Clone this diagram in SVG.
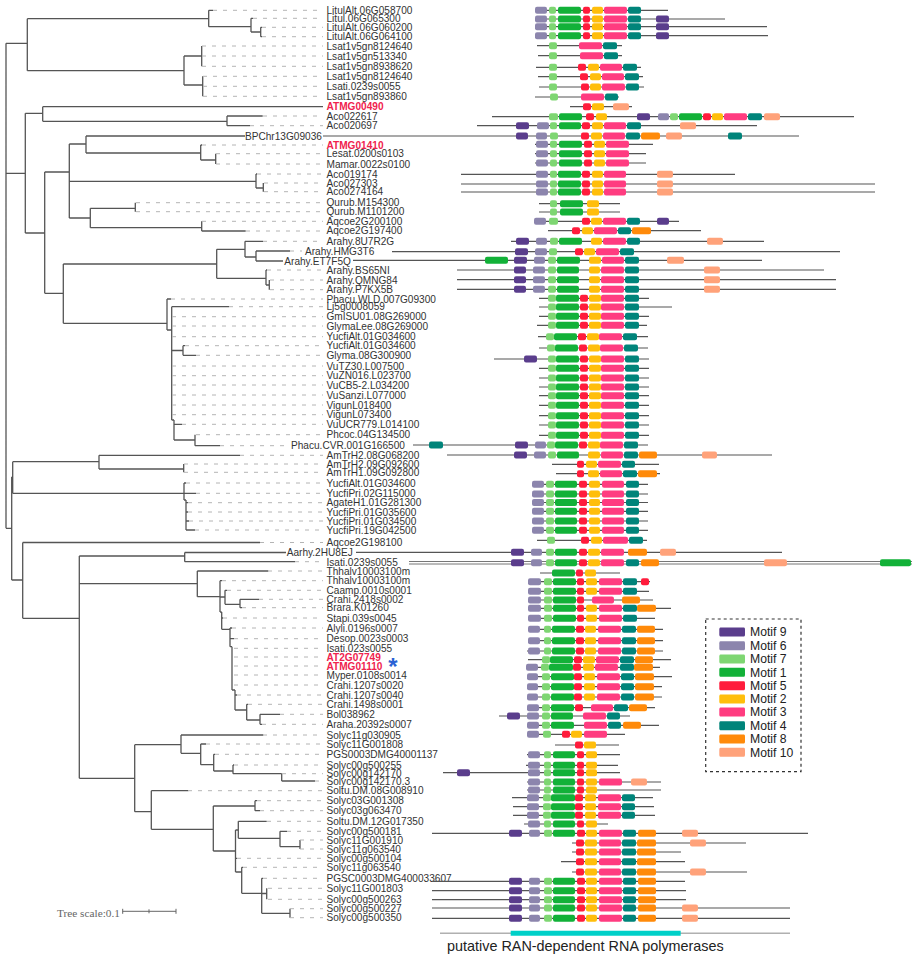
<svg xmlns="http://www.w3.org/2000/svg" xmlns:xlink="http://www.w3.org/1999/xlink" width="918" height="960" viewBox="0 0 918 960">
<style>
.t{stroke:#555;stroke-width:1.3;fill:none}
.d{stroke:#b4b4b4;stroke-width:1;stroke-dasharray:4 6;fill:none}
.l{font-family:"Liberation Sans",Arial,sans-serif;font-size:10.1px;fill:#333}
.r{fill:#f0224e;font-weight:bold}
.ln{stroke:#555;stroke-width:1.2}
rect{rx:2px;ry:2px}
.m9{fill:#5a3d8c}.m6{fill:#8c85ad}.m7{fill:#7ed672}.m1{fill:#12b138}.m5{fill:#ff1c3c}
.m2{fill:#ffbe0b}.m3{fill:#ff3c80}.m4{fill:#00847a}.m8{fill:#ff8a0a}.m10{fill:#ffa27a}
.lg{font-family:"Liberation Sans",Arial,sans-serif;font-size:12.2px;fill:#222}
</style>
<defs>
<g id="S1"><rect class="m6" x="535" y="-3.5" width="12" height="7"/><rect class="m7" x="549" y="-3.5" width="7" height="7"/><rect class="m1" x="558" y="-3.5" width="23" height="7"/><rect class="m5" x="583" y="-3.5" width="7" height="7"/><rect class="m2" x="592" y="-3.5" width="11" height="7"/><rect class="m3" x="604" y="-3.5" width="23" height="7"/><rect class="m4" x="628" y="-3.5" width="13" height="7"/></g>
<g id="S2"><rect class="m7" x="548" y="-3.5" width="8" height="7"/><rect class="m1" x="556" y="-3.5" width="23" height="7"/><rect class="m5" x="580" y="-3.5" width="8" height="7"/><rect class="m2" x="589" y="-3.5" width="12" height="7"/><rect class="m3" x="601" y="-3.5" width="23" height="7"/><rect class="m4" x="625" y="-3.5" width="14" height="7"/></g>
<g id="S3"><rect class="m6" x="532" y="-3.5" width="12" height="7"/><rect class="m7" x="546" y="-3.5" width="8" height="7"/><rect class="m1" x="555" y="-3.5" width="22" height="7"/><rect class="m5" x="579" y="-3.5" width="8" height="7"/><rect class="m2" x="589" y="-3.5" width="11" height="7"/><rect class="m3" x="602" y="-3.5" width="22" height="7"/><rect class="m4" x="626" y="-3.5" width="13" height="7"/></g>
<g id="S4"><rect class="m6" x="528" y="-3.5" width="13" height="7"/><rect class="m7" x="544" y="-3.5" width="8" height="7"/><rect class="m1" x="553" y="-3.5" width="23" height="7"/><rect class="m5" x="577" y="-3.5" width="7" height="7"/><rect class="m2" x="586" y="-3.5" width="11" height="7"/><rect class="m3" x="599" y="-3.5" width="23" height="7"/><rect class="m4" x="623" y="-3.5" width="14" height="7"/></g>
<g id="S5"><rect class="m6" x="528" y="-3.5" width="12" height="7"/><rect class="m7" x="544" y="-3.5" width="7" height="7"/><rect class="m1" x="552" y="-3.5" width="23" height="7"/><rect class="m5" x="576" y="-3.5" width="8" height="7"/><rect class="m2" x="585" y="-3.5" width="11" height="7"/><rect class="m3" x="598" y="-3.5" width="23" height="7"/><rect class="m4" x="622" y="-3.5" width="14" height="7"/><rect class="m8" x="637" y="-3.5" width="18" height="7"/></g>
<g id="S6"><rect class="m6" x="527" y="-3.5" width="11" height="7"/><rect class="m7" x="542" y="-3.5" width="8" height="7"/><rect class="m1" x="551" y="-3.5" width="23" height="7"/><rect class="m5" x="574" y="-3.5" width="8" height="7"/><rect class="m2" x="584" y="-3.5" width="11" height="7"/><rect class="m3" x="597" y="-3.5" width="23" height="7"/><rect class="m4" x="621" y="-3.5" width="13" height="7"/><rect class="m8" x="635" y="-3.5" width="19" height="7"/></g>
<g id="S7"><rect class="m6" x="528" y="-3.5" width="12" height="7"/><rect class="m7" x="544" y="-3.5" width="7" height="7"/><rect class="m1" x="553" y="-3.5" width="22" height="7"/><rect class="m5" x="577" y="-3.5" width="7" height="7"/><rect class="m2" x="586" y="-3.5" width="11" height="7"/></g>
<g id="S8"><rect class="m6" x="527" y="-3.5" width="12" height="7"/><rect class="m7" x="543" y="-3.5" width="8" height="7"/><rect class="m1" x="551" y="-3.5" width="24" height="7"/><rect class="m5" x="575" y="-3.5" width="8" height="7"/><rect class="m2" x="585" y="-3.5" width="11" height="7"/><rect class="m3" x="598" y="-3.5" width="23" height="7"/><rect class="m4" x="622" y="-3.5" width="13" height="7"/></g>
<g id="S9"><rect class="m9" x="509" y="-3.5" width="13" height="7"/><rect class="m6" x="529" y="-3.5" width="11" height="7"/><rect class="m7" x="544" y="-3.5" width="8" height="7"/><rect class="m1" x="553" y="-3.5" width="22" height="7"/><rect class="m5" x="577" y="-3.5" width="8" height="7"/><rect class="m2" x="586" y="-3.5" width="11" height="7"/><rect class="m3" x="599" y="-3.5" width="23" height="7"/><rect class="m4" x="623" y="-3.5" width="13" height="7"/><rect class="m8" x="638" y="-3.5" width="18" height="7"/></g>
<g id="SA"><rect class="m6" x="536" y="-3.5" width="12" height="7"/><rect class="m7" x="550" y="-3.5" width="7" height="7"/><rect class="m1" x="559" y="-3.5" width="23" height="7"/><rect class="m5" x="584" y="-3.5" width="8" height="7"/><rect class="m2" x="594" y="-3.5" width="11" height="7"/><rect class="m3" x="606" y="-3.5" width="23" height="7"/></g>
<g id="SB"><rect class="m6" x="536" y="-3.5" width="12" height="7"/><rect class="m7" x="550" y="-3.5" width="7" height="7"/><rect class="m1" x="558" y="-3.5" width="23" height="7"/><rect class="m5" x="582" y="-3.5" width="8" height="7"/><rect class="m2" x="592" y="-3.5" width="11" height="7"/><rect class="m3" x="604" y="-3.5" width="22" height="7"/><rect class="m10" x="657" y="-3.5" width="16" height="7"/></g>
<g id="SC"><rect class="m9" x="514" y="-3.5" width="12" height="7"/><rect class="m6" x="533" y="-3.5" width="12" height="7"/><rect class="m7" x="548" y="-3.5" width="8" height="7"/><rect class="m1" x="557" y="-3.5" width="22" height="7"/><rect class="m2" x="589" y="-3.5" width="11" height="7"/><rect class="m3" x="601" y="-3.5" width="23" height="7"/><rect class="m4" x="625" y="-3.5" width="14" height="7"/><rect class="m10" x="704" y="-3.5" width="16" height="7"/></g>
<g id="SD"><rect class="m5" x="576" y="-3.5" width="8" height="7"/><rect class="m2" x="585" y="-3.5" width="12" height="7"/><rect class="m3" x="599" y="-3.5" width="22" height="7"/><rect class="m4" x="622" y="-3.5" width="14" height="7"/><rect class="m8" x="637" y="-3.5" width="19" height="7"/></g>
</defs>
<rect width="918" height="960" fill="#fff" style="rx:0"/>

<g id="connectors">
<path class="t" d="M6 43.3V528.3M6 43.3H27.3M27.3 18.7V70.7M27.3 18.7H208.7M208.7 10.3V26.7M208.7 10.3H213M208.7 26.7H251M251 18.3V32M251 18.3H253M251 32H260.7M260.7 27.3V36.7M260.7 27.3H262M260.7 36.7H262M27.3 70.7H184M184 56V85M184 56H201.7M201.7 46V66.3M184 85H202.7M202.7 76.3V96.3
M6 173.3H25.3M25.3 113.3V233M25.3 113.3H42.7M42.7 106.7V121.3M42.7 106.7H323M42.7 121.3H227M227 116V125.7M227 116H262.7M227 125.7H250M25.3 233H44.7M44.7 172V293.3M44.7 172H69.3M69.3 144V218M69.3 144H86M86 136V153M86 136H245M86 153H200.7M200.7 145V160M200.7 145H202M200.7 160H215.7M215.7 153.7V164M69.3 181.3H256M256 174V188M256 174H257M256 188H263.3M263.3 183V191.7M69.3 218H90.3M90.3 208.3V227.7M90.3 208.3H135.3M135.3 202.7V211.7M90.3 227.7H201.7M201.7 221.3V231M201.7 231H245.7
M44.7 293.3H63.3M63.3 264V323.3M63.3 264H216.7M216.7 249.3V278.3M216.7 249.3H245M245 241.3V257M245 241.3H263M245 257H256M256 251V261M256 251H290M256 261H283M216.7 278.3H266M266 270V285M266 270H267M266 285H269.3M269.3 280V289.7
M63.3 323.3H167M167 299V330M167 299H171M167 330H171.7M171.7 306.7V420M171.7 306.7H229M171.7 350.5H183M183 345.7V355.3M183 345.7H185M183 355.3H196M171.7 420H174M174 420V440M174 424.3H182M174 440H195M195 434.7V445.7M195 445.7H220
M6 528.3H11.7M11.7 477V580M11.7 477H12.7M12.7 461.7V493.3M12.7 461.7H99M99 455.3V469M99 455.3H240M99 469H183.7M183.7 464V472.3M12.7 493.3H196M184 483V500M184 483H186M184 500H186M186 500V530M186 502.7H188M186 512H188M186 521H189M186 530H195
M11.7 580H22.7M22.7 542.5V618.3M22.7 542.5H260M22.7 618.3H79.3M79.3 556V778.3M79.3 556H184.7M184.7 552.5V561.7M184.7 552.5H286M184.7 561.7H295M79.3 583.7H197.3M197.3 571V596.7M197.3 571H268.3M197.3 596.7H220M220 580.7V612M220 580.7H222M220 597H225M225 590.3V604.3M225 590.3H227M225 604.3H240M240 599.3V607.7M240 599.3H259M240 607.7H242M220 612H221.7M221.7 612V629.3M221.7 618H223M221.7 629.3H230M230 628V646.7M230 628H232M230 638.7H234M230 646.7H232M232 646.7V690M232 690H235M235 690V710M235 695H237M235 710H246.7M246.7 704.3V720M246.7 704.3H248M246.7 720H260M260 714.3V724.3M260 714.3H280M260 724.3H262
M79.3 778.3H134.7M134.7 744.7V811.7M134.7 744.7H181M181 735V753.3M181 735H263.3M181 753.3H200.7M200.7 744V764.7M200.7 744H206M200.7 764.7H213.7M213.7 754.3V771M213.7 754.3H215M213.7 771H233M233 765V773.7M233 765H234M233 773.7H281.7M281.7 773.7V781M281.7 781H315M134.7 811.7H151.3M151.3 790.7V829.3M151.3 790.7H188.3M151.3 829.3H213.3M213.3 806V851M213.3 806H255M255 800.7V810.7M255 800.7H257M255 810.7H260M213.3 851H235.5M235.5 830V872M235.5 830H238.3M238.3 821.3V838.3M238.3 821.3H266.7M238.3 838.3H280M280 831.3V846.7M280 831.3H287M280 846.7H300M300 840V849M235.5 858.3H237M235.5 872H241.7M241.7 867.3V893.3M241.7 867.3H243M241.7 893.3H261.7M261.7 878.3V913.3M261.7 878.3H263M261.7 893.5H266.7M266.7 888.3V899.3M261.7 913.3H290M290 908.7V917.7"/>
</g>

<g id="leaves">
<g id="n1"><path class="d" d="M213 10.3H323"/><text class="l" x="326.5" y="13.9">LitulAlt.06G058700</text></g>
<g id="n2"><path class="d" d="M253 18.3H323"/><text class="l" x="326.5" y="21.9">Litul.06G065300</text></g>
<g id="n3"><path class="d" d="M262 27.3H323"/><text class="l" x="326.5" y="30.9">LitulAlt.06G060200</text></g>
<g id="n4"><path class="d" d="M262 36.7H323"/><text class="l" x="326.5" y="40.3">LitulAlt.06G064100</text></g>
<g id="n5"><path class="d" d="M202 46H323"/><text class="l" x="326.5" y="49.6">Lsat1v5gn8124640</text></g>
<g id="n6"><path class="d" d="M202 56H323"/><text class="l" x="326.5" y="59.6">Lsat1v5gn513340</text></g>
<g id="n7"><path class="d" d="M202 66.3H323"/><text class="l" x="326.5" y="69.9">Lsat1v5gn8938620</text></g>
<g id="n8"><path class="d" d="M203 76.3H323"/><text class="l" x="326.5" y="79.9">Lsat1v5gn8124640</text></g>
<g id="n9"><path class="d" d="M203 86.3H323"/><text class="l" x="326.5" y="89.9">Lsati.0239s0055</text></g>
<g id="n10"><path class="d" d="M203 96.3H323"/><text class="l" x="326.5" y="99.9">Lsat1v5gn893860</text></g>
<g id="n11"><text class="l r" x="326.5" y="110.3">ATMG00490</text></g>
<g id="n12"><path class="d" d="M263 116H323"/><text class="l" x="326.5" y="119.6">Aco022617</text></g>
<g id="n13"><path class="d" d="M250 125.7H323"/><text class="l" x="326.5" y="129.3">Aco020697</text></g>
<g id="n14"><text class="l" x="245" y="139.6">BPChr13G09036</text></g>
<g id="n15"><path class="d" d="M202 145H323"/><text class="l r" x="326.5" y="148.6">ATMG01410</text></g>
<g id="n16"><path class="d" d="M216 153.7H323"/><text class="l" x="326.5" y="157.3">Lesat.0200s0103</text></g>
<g id="n17"><path class="d" d="M216 164H323"/><text class="l" x="326.5" y="167.6">Mamar.0022s0100</text></g>
<g id="n18"><path class="d" d="M257 174H323"/><text class="l" x="326.5" y="177.6">Aco019174</text></g>
<g id="n19"><path class="d" d="M264 183H323"/><text class="l" x="326.5" y="186.6">Aco027303</text></g>
<g id="n20"><path class="d" d="M264 191.7H323"/><text class="l" x="326.5" y="195.3">Aco0274164</text></g>
<g id="n21"><path class="d" d="M136 202.7H323"/><text class="l" x="326.5" y="206.3">Qurub.M154300</text></g>
<g id="n22"><path class="d" d="M136 211.7H323"/><text class="l" x="326.5" y="215.3">Qurub.M1101200</text></g>
<g id="n23"><path class="d" d="M202 221.3H323"/><text class="l" x="326.5" y="224.9">Aqcoe2G200100</text></g>
<g id="n24"><path class="d" d="M246 231H323"/><text class="l" x="326.5" y="234.2">Aqcoe2G197400</text></g>
<g id="n25"><path class="d" d="M263 241.3H323"/><text class="l" x="326.5" y="244.9">Arahy.8U7R2G</text></g>
<g id="n26"><path class="d" d="M290 251H302"/><text class="l" x="305" y="254.6">Arahy.HMG3T6</text></g>
<g id="n27"><text class="l" x="284.3" y="264.6">Arahy.ET7F5Q</text></g>
<g id="n28"><path class="d" d="M267 270H323"/><text class="l" x="326.5" y="273.6">Arahy.BS65NI</text></g>
<g id="n29"><path class="d" d="M270 280H323"/><text class="l" x="326.5" y="283.6">Arahy.QMNG84</text></g>
<g id="n30"><path class="d" d="M270 289.7H323"/><text class="l" x="326.5" y="293.3">Arahy.P7KX5B</text></g>
<g id="n31"><path class="d" d="M171 299H323"/><text class="l" x="326.5" y="302.6">Phacu.WLD.007G09300</text></g>
<g id="n32"><path class="d" d="M229 306.7H323"/><text class="l" x="326.5" y="310.3">Lj5g0008059</text></g>
<g id="n33"><path class="d" d="M172 316.7H323"/><text class="l" x="326.5" y="320.3">GmISU01.08G269000</text></g>
<g id="n34"><path class="d" d="M172 326H323"/><text class="l" x="326.5" y="329.6">GlymaLee.08G269000</text></g>
<g id="n35"><path class="d" d="M172 336.7H323"/><text class="l" x="326.5" y="340.3">YucfiAlt.01G034600</text></g>
<g id="n36"><path class="d" d="M185 345.7H323"/><text class="l" x="326.5" y="349.3">YucfiAlt.01G034600</text></g>
<g id="n37"><path class="d" d="M196 355.3H323"/><text class="l" x="326.5" y="358.9">Glyma.08G300900</text></g>
<g id="n38"><path class="d" d="M172 366H323"/><text class="l" x="326.5" y="369.6">VuTZ30.L007500</text></g>
<g id="n39"><path class="d" d="M172 375.7H323"/><text class="l" x="326.5" y="379.3">VuZN016.L023700</text></g>
<g id="n40"><path class="d" d="M172 385H323"/><text class="l" x="326.5" y="388.6">VuCB5-2.L034200</text></g>
<g id="n41"><path class="d" d="M172 395H323"/><text class="l" x="326.5" y="398.6">VuSanzi.L077000</text></g>
<g id="n42"><path class="d" d="M172 405H323"/><text class="l" x="326.5" y="408.6">VigunL018400</text></g>
<g id="n43"><path class="d" d="M172 414.7H323"/><text class="l" x="326.5" y="418.3">VigunL073400</text></g>
<g id="n44"><path class="d" d="M182 424.3H323"/><text class="l" x="326.5" y="427.9">VuUCR779.L014100</text></g>
<g id="n45"><path class="d" d="M196 434.7H323"/><text class="l" x="326.5" y="438.3">Phcoc.04G134500</text></g>
<g id="n46"><path class="d" d="M220 445.7H288"/><text class="l" x="291" y="449.3">Phacu.CVR.001G166500</text></g>
<g id="n47"><path class="d" d="M240 455.3H323"/><text class="l" x="326.5" y="458.9">AmTrH2.08G068200</text></g>
<g id="n48"><path class="d" d="M184 464H323"/><text class="l" x="326.5" y="467.6">AmTrH2.09G092600</text></g>
<g id="n49"><path class="d" d="M184 472.3H323"/><text class="l" x="326.5" y="475.9">AmTrH1.09G092800</text></g>
<g id="n50"><path class="d" d="M186 483H323"/><text class="l" x="326.5" y="486.6">YucfiAlt.01G034600</text></g>
<g id="n51"><path class="d" d="M196 493.3H323"/><text class="l" x="326.5" y="496.9">YucfiPri.02G115000</text></g>
<g id="n52"><path class="d" d="M188 502.7H323"/><text class="l" x="326.5" y="506.3">AgateH1.01G281300</text></g>
<g id="n53"><path class="d" d="M188 512H323"/><text class="l" x="326.5" y="515.6">YucfiPri.01G035600</text></g>
<g id="n54"><path class="d" d="M189 521H323"/><text class="l" x="326.5" y="524.6">YucfiPri.01G034500</text></g>
<g id="n55"><path class="d" d="M195 530H323"/><text class="l" x="326.5" y="533.6">YucfiPri.19G042500</text></g>
<g id="n56"><path class="d" d="M260 542.5H323"/><text class="l" x="326.5" y="546.4">Aqcoe2G198100</text></g>
<g id="n57"><text class="l" x="286.7" y="556.3">Aarhy.2HU8EJ</text></g>
<g id="n58"><path class="d" d="M295 561.7H323"/><text class="l" x="326.5" y="565.9">Isati.0239s0055</text></g>
<g id="n59"><path class="d" d="M268 571H323"/><text class="l" x="326.5" y="574.6">Thhalv10003100m</text></g>
<g id="n60"><path class="d" d="M222 580.7H323"/><text class="l" x="326.5" y="584.3">Thhalv10003100m</text></g>
<g id="n61"><path class="d" d="M227 590.3H323"/><text class="l" x="326.5" y="593.9">Caamp.0010s0001</text></g>
<g id="n62"><path class="d" d="M259 599.3H323"/><text class="l" x="326.5" y="602.9">Crahi.2418s0002</text></g>
<g id="n63"><path class="d" d="M242 607.7H323"/><text class="l" x="326.5" y="611.3">Brara.K01260</text></g>
<g id="n64"><path class="d" d="M223 618H323"/><text class="l" x="326.5" y="621.6">Stapi.039s0045</text></g>
<g id="n65"><path class="d" d="M232 628H323"/><text class="l" x="326.5" y="631.6">Alyli.0196s0007</text></g>
<g id="n66"><path class="d" d="M234 638.7H323"/><text class="l" x="326.5" y="642.3">Desop.0023s0003</text></g>
<g id="n67"><path class="d" d="M234 648.3H323"/><text class="l" x="326.5" y="651.9">Isati.023s0055</text></g>
<g id="n68"><path class="d" d="M234 657H323"/><text class="l r" x="326.5" y="660.6">AT2G07749</text></g>
<g id="n69"><path class="d" d="M234 666H323"/><text class="l r" x="326.5" y="669.6">ATMG01110</text></g>
<g id="star"><text x="393" y="674.5" text-anchor="middle" style="font-family:'Liberation Sans',Arial,sans-serif;font-size:24px;font-weight:bold;fill:#2a62d4">*</text></g>
<g id="n70"><path class="d" d="M234 675H323"/><text class="l" x="326.5" y="678.6">Myper.0108s0014</text></g>
<g id="n71"><path class="d" d="M234 685H323"/><text class="l" x="326.5" y="688.6">Crahi.1207s0020</text></g>
<g id="n72"><path class="d" d="M237 695H323"/><text class="l" x="326.5" y="698.6">Crahi.1207s0040</text></g>
<g id="n73"><path class="d" d="M248 704.3H323"/><text class="l" x="326.5" y="707.9">Crahi.1498s0001</text></g>
<g id="n74"><path class="d" d="M280 714.3H323"/><text class="l" x="326.5" y="717.9">Bol038962</text></g>
<g id="n75"><path class="d" d="M262 724.3H323"/><text class="l" x="326.5" y="727.9">Araha.20392s0007</text></g>
<g id="n76"><path class="d" d="M263 735H323"/><text class="l" x="326.5" y="738.6">Solyc11g030905</text></g>
<g id="n77"><path class="d" d="M206 744H323"/><text class="l" x="326.5" y="747.6">Solyc11G001808</text></g>
<g id="n78"><path class="d" d="M215 754.3H323"/><text class="l" x="326.5" y="757.9">PGS0003DMG40001137</text></g>
<g id="n79"><path class="d" d="M234 765H323"/><text class="l" x="326.5" y="768.6">Solyc00g500255</text></g>
<g id="n80"><path class="d" d="M282 773.7H323"/><text class="l" x="326.5" y="777.3">Solyc00g142170</text></g>
<g id="n81"><path class="d" d="M315 781H323"/><text class="l" x="326.5" y="784.6">Solyc00g142170.3</text></g>
<g id="n82"><path class="d" d="M188 790.7H323"/><text class="l" x="326.5" y="794.3">Soltu.DM.08G008910</text></g>
<g id="n83"><path class="d" d="M257 800.7H323"/><text class="l" x="326.5" y="804.3">Solyc03G001308</text></g>
<g id="n84"><path class="d" d="M260 810.7H323"/><text class="l" x="326.5" y="814.3">Solyc03g063470</text></g>
<g id="n85"><path class="d" d="M267 821.3H323"/><text class="l" x="326.5" y="824.9">Soltu.DM.12G017350</text></g>
<g id="n86"><path class="d" d="M287 831.3H323"/><text class="l" x="326.5" y="834.9">Solyc00g500181</text></g>
<g id="n87"><path class="d" d="M300 840H323"/><text class="l" x="326.5" y="843.6">Solyc11G001910</text></g>
<g id="n88"><path class="d" d="M300 849H323"/><text class="l" x="326.5" y="852.6">Solyc11g063540</text></g>
<g id="n89"><path class="d" d="M237 858.3H323"/><text class="l" x="326.5" y="861.9">Solyc00g500104</text></g>
<g id="n90"><path class="d" d="M243 867.3H323"/><text class="l" x="326.5" y="870.9">Solyc11g063540</text></g>
<g id="n91"><path class="d" d="M263 878.3H323"/><text class="l" x="326.5" y="881.9">PGSC0003DMG400033607</text></g>
<g id="n92"><path class="d" d="M268 888.3H323"/><text class="l" x="326.5" y="891.9">Solyc11G001803</text></g>
<g id="n93"><path class="d" d="M268 899.3H323"/><text class="l" x="326.5" y="902.9">Solyc00g500263</text></g>
<g id="n94"><path class="d" d="M290 908.7H323"/><text class="l" x="326.5" y="912.3">Solyc00g500227</text></g>
<g id="n95"><path class="d" d="M290 917.7H323"/><text class="l" x="326.5" y="921.3">Solyc00g500350</text></g>
</g>

<g id="motifs">
<g id="r1"><line class="ln" x1="535" y1="10.3" x2="668" y2="10.3"/><use href="#S1" y="10.3"/></g>
<g id="r2"><line class="ln" x1="535" y1="19" x2="725" y2="19"/><use href="#S1" y="19"/><rect class="m9" x="656" y="15.5" width="13" height="7"/></g>
<g id="r3"><line class="ln" x1="535" y1="26.7" x2="767" y2="26.7"/><use href="#S1" y="26.7"/><rect class="m9" x="656" y="23.2" width="13" height="7"/></g>
<g id="r4"><line class="ln" x1="535" y1="35.7" x2="768" y2="35.7"/><use href="#S1" y="35.7"/><rect class="m9" x="656" y="32.2" width="13" height="7"/></g>
<g id="r5"><line class="ln" x1="537" y1="45.7" x2="622" y2="45.7"/><rect class="m7" x="549" y="42.2" width="8" height="7"/><rect class="m3" x="579" y="42.2" width="23" height="7"/><rect class="m4" x="603" y="42.2" width="14" height="7"/></g>
<g id="r6"><line class="ln" x1="538" y1="55.7" x2="622" y2="55.7"/><rect class="m7" x="549" y="52.2" width="8" height="7"/><rect class="m3" x="580" y="52.2" width="23" height="7"/><rect class="m4" x="604" y="52.2" width="14" height="7"/></g>
<g id="r7"><line class="ln" x1="536" y1="67.3" x2="641" y2="67.3"/><rect class="m7" x="549" y="63.8" width="8" height="7"/><rect class="m5" x="578" y="63.8" width="8" height="7"/><rect class="m2" x="588" y="63.8" width="11" height="7"/><rect class="m3" x="600" y="63.8" width="22" height="7"/><rect class="m4" x="623" y="63.8" width="14" height="7"/></g>
<g id="r8"><line class="ln" x1="538" y1="76.7" x2="643" y2="76.7"/><rect class="m7" x="549" y="73.2" width="8" height="7"/><rect class="m5" x="580" y="73.2" width="8" height="7"/><rect class="m2" x="590" y="73.2" width="11" height="7"/><rect class="m3" x="602" y="73.2" width="22" height="7"/><rect class="m4" x="625" y="73.2" width="14" height="7"/></g>
<g id="r9"><line class="ln" x1="539" y1="87" x2="644" y2="87"/><rect class="m7" x="549" y="83.5" width="8" height="7"/><rect class="m5" x="581" y="83.5" width="8" height="7"/><rect class="m2" x="590" y="83.5" width="11" height="7"/><rect class="m3" x="602" y="83.5" width="23" height="7"/><rect class="m4" x="626" y="83.5" width="13" height="7"/></g>
<g id="r10"><line class="ln" x1="535" y1="97" x2="619" y2="97"/><rect class="m7" x="550" y="93.5" width="8" height="7"/><rect class="m3" x="581" y="93.5" width="23" height="7"/><rect class="m4" x="605" y="93.5" width="13" height="7"/></g>
<g id="r11"><line class="ln" x1="570" y1="106.7" x2="632" y2="106.7"/><rect class="m5" x="583" y="103.2" width="8" height="7"/><rect class="m2" x="592" y="103.2" width="12" height="7"/><rect class="m10" x="613" y="103.2" width="16" height="7"/></g>
<g id="r12"><line class="ln" x1="492" y1="116.7" x2="854" y2="116.7"/><rect class="m7" x="549" y="113.2" width="9" height="7"/><rect class="m1" x="559" y="113.2" width="23" height="7"/><rect class="m5" x="586" y="113.2" width="8" height="7"/><rect class="m2" x="596" y="113.2" width="11" height="7"/><rect class="m9" x="637" y="113.2" width="13" height="7"/><rect class="m6" x="658" y="113.2" width="11" height="7"/><rect class="m7" x="670" y="113.2" width="8" height="7"/><rect class="m1" x="679" y="113.2" width="23" height="7"/><rect class="m5" x="703" y="113.2" width="8" height="7"/><rect class="m2" x="712" y="113.2" width="11" height="7"/><rect class="m3" x="724" y="113.2" width="23" height="7"/><rect class="m4" x="748" y="113.2" width="14" height="7"/><rect class="m10" x="764" y="113.2" width="16" height="7"/></g>
<g id="r13"><line class="ln" x1="477" y1="125.7" x2="757" y2="125.7"/><rect class="m9" x="516" y="122.2" width="13" height="7"/><rect class="m6" x="537" y="122.2" width="12" height="7"/><rect class="m7" x="550" y="122.2" width="7" height="7"/><rect class="m1" x="559" y="122.2" width="22" height="7"/><rect class="m5" x="582" y="122.2" width="8" height="7"/><rect class="m2" x="592" y="122.2" width="11" height="7"/><rect class="m3" x="604" y="122.2" width="22" height="7"/><rect class="m4" x="627" y="122.2" width="14" height="7"/><rect class="m10" x="680" y="122.2" width="16" height="7"/></g>
<g id="r14"><line class="ln" x1="323" y1="136" x2="799" y2="136"/><rect class="m9" x="516" y="132.5" width="12" height="7"/><rect class="m6" x="536" y="132.5" width="11" height="7"/><rect class="m7" x="550" y="132.5" width="8" height="7"/><rect class="m5" x="581" y="132.5" width="8" height="7"/><rect class="m2" x="591" y="132.5" width="11" height="7"/><rect class="m3" x="603" y="132.5" width="22" height="7"/><rect class="m4" x="626" y="132.5" width="14" height="7"/><rect class="m8" x="641" y="132.5" width="19" height="7"/><rect class="m10" x="666" y="132.5" width="16" height="7"/><rect class="m4" x="728" y="132.5" width="14" height="7"/></g>
<g id="r15"><line class="ln" x1="535" y1="144.3" x2="653" y2="144.3"/><use href="#SA" y="144.3"/></g>
<g id="r16"><line class="ln" x1="535" y1="153.7" x2="646" y2="153.7"/><use href="#SA" y="153.7"/></g>
<g id="r17"><line class="ln" x1="535" y1="163" x2="646" y2="163"/><use href="#SA" y="163"/></g>
<g id="r18"><line class="ln" x1="461" y1="174.3" x2="735" y2="174.3"/><use href="#SB" y="174.3"/></g>
<g id="r19"><line class="ln" x1="461" y1="184" x2="875" y2="184"/><use href="#SB" y="184"/></g>
<g id="r20"><line class="ln" x1="461" y1="192" x2="875" y2="192"/><use href="#SB" y="192"/></g>
<g id="r21"><line class="ln" x1="539" y1="203.7" x2="620" y2="203.7"/><rect class="m7" x="550" y="200.2" width="7" height="7"/><rect class="m1" x="560" y="200.2" width="23" height="7"/><rect class="m2" x="587" y="200.2" width="12" height="7"/></g>
<g id="r22"><line class="ln" x1="539" y1="212" x2="620" y2="212"/><rect class="m7" x="550" y="208.5" width="7" height="7"/><rect class="m1" x="560" y="208.5" width="23" height="7"/><rect class="m2" x="587" y="208.5" width="12" height="7"/></g>
<g id="r23"><line class="ln" x1="534" y1="221.3" x2="679" y2="221.3"/><rect class="m6" x="534" y="217.8" width="12" height="7"/><rect class="m7" x="549" y="217.8" width="9" height="7"/><rect class="m5" x="582" y="217.8" width="8" height="7"/><rect class="m2" x="591" y="217.8" width="11" height="7"/><rect class="m3" x="603" y="217.8" width="23" height="7"/><rect class="m4" x="627" y="217.8" width="13" height="7"/><rect class="m9" x="657" y="217.8" width="12" height="7"/></g>
<g id="r24"><line class="ln" x1="548" y1="230.7" x2="701" y2="230.7"/><rect class="m5" x="572" y="227.2" width="8" height="7"/><rect class="m2" x="582" y="227.2" width="11" height="7"/><rect class="m3" x="594" y="227.2" width="23" height="7"/><rect class="m4" x="618" y="227.2" width="13" height="7"/><rect class="m8" x="632" y="227.2" width="19" height="7"/></g>
<g id="r25"><line class="ln" x1="511" y1="241.3" x2="764" y2="241.3"/><rect class="m9" x="516" y="237.8" width="13" height="7"/><rect class="m6" x="536" y="237.8" width="11" height="7"/><rect class="m7" x="550" y="237.8" width="8" height="7"/><rect class="m1" x="559" y="237.8" width="23" height="7"/><rect class="m2" x="591" y="237.8" width="11" height="7"/><rect class="m3" x="603" y="237.8" width="23" height="7"/><rect class="m4" x="627" y="237.8" width="13" height="7"/><rect class="m10" x="707" y="237.8" width="16" height="7"/></g>
<g id="r26"><line class="ln" x1="392" y1="251.7" x2="840" y2="251.7"/><rect class="m9" x="515" y="248.2" width="13" height="7"/><rect class="m6" x="535" y="248.2" width="12" height="7"/><rect class="m7" x="549" y="248.2" width="8" height="7"/><rect class="m5" x="575" y="248.2" width="8" height="7"/><rect class="m2" x="584" y="248.2" width="11" height="7"/><rect class="m3" x="596" y="248.2" width="23" height="7"/><rect class="m4" x="620" y="248.2" width="14" height="7"/></g>
<g id="r27"><line class="ln" x1="353" y1="260.3" x2="762" y2="260.3"/><rect class="m1" x="485" y="256.8" width="23" height="7"/><rect class="m9" x="514" y="256.8" width="13" height="7"/><rect class="m6" x="534" y="256.8" width="11" height="7"/><rect class="m7" x="548" y="256.8" width="8" height="7"/><rect class="m1" x="557" y="256.8" width="23" height="7"/><rect class="m2" x="589" y="256.8" width="12" height="7"/><rect class="m3" x="602" y="256.8" width="22" height="7"/><rect class="m4" x="625" y="256.8" width="14" height="7"/><rect class="m10" x="667" y="256.8" width="17" height="7"/></g>
<g id="r28"><line class="ln" x1="457" y1="270" x2="824" y2="270"/><use href="#SC" y="270"/></g>
<g id="r29"><line class="ln" x1="457" y1="279.7" x2="836" y2="279.7"/><use href="#SC" y="279.7"/></g>
<g id="r30"><line class="ln" x1="457" y1="289.3" x2="836" y2="289.3"/><use href="#SC" y="289.3"/></g>
<g id="r31"><line class="ln" x1="539" y1="298.3" x2="649" y2="298.3"/><use href="#S2" y="298.3"/></g>
<g id="r32"><line class="ln" x1="539" y1="307" x2="672" y2="307"/><use href="#S2" y="307"/></g>
<g id="r33"><line class="ln" x1="539" y1="316.3" x2="649" y2="316.3"/><use href="#S2" y="316.3"/></g>
<g id="r34"><line class="ln" x1="537" y1="325.3" x2="647" y2="325.3"/><use href="#S2" y="325.3"/></g>
<g id="r35"><line class="ln" x1="538" y1="336.7" x2="648" y2="336.7"/><use href="#S2" x="-2" y="336.7"/></g>
<g id="r36"><line class="ln" x1="539" y1="348" x2="648" y2="348"/><use href="#S2" x="-1" y="348"/></g>
<g id="r37"><line class="ln" x1="494" y1="359" x2="649" y2="359"/><rect class="m9" x="524" y="355.5" width="13" height="7"/><use href="#S2" y="359"/></g>
<g id="r38"><line class="ln" x1="539" y1="368.3" x2="649" y2="368.3"/><use href="#S2" y="368.3"/></g>
<g id="r39"><line class="ln" x1="539" y1="378" x2="649" y2="378"/><use href="#S2" y="378"/></g>
<g id="r40"><line class="ln" x1="539" y1="387" x2="649" y2="387"/><use href="#S2" y="387"/></g>
<g id="r41"><line class="ln" x1="539" y1="395.7" x2="649" y2="395.7"/><use href="#S2" y="395.7"/></g>
<g id="r42"><line class="ln" x1="539" y1="405.3" x2="649" y2="405.3"/><use href="#S2" y="405.3"/></g>
<g id="r43"><line class="ln" x1="539" y1="415.7" x2="649" y2="415.7"/><use href="#S2" y="415.7"/></g>
<g id="r44"><line class="ln" x1="539" y1="425" x2="649" y2="425"/><use href="#S2" y="425"/></g>
<g id="r45"><line class="ln" x1="539" y1="435.3" x2="649" y2="435.3"/><use href="#S2" y="435.3"/></g>
<g id="r47"><line class="ln" x1="413" y1="445" x2="648" y2="445"/><rect class="m4" x="429" y="441.5" width="14" height="7"/><rect class="m9" x="515" y="441.5" width="13" height="7"/><rect class="m6" x="535" y="441.5" width="11" height="7"/><use href="#S2" x="-1" y="445"/></g>
<g id="r48"><line class="ln" x1="447" y1="455" x2="772" y2="455"/><rect class="m9" x="514" y="451.5" width="13" height="7"/><rect class="m6" x="534" y="451.5" width="12" height="7"/><rect class="m7" x="548" y="451.5" width="8" height="7"/><rect class="m1" x="557" y="451.5" width="22" height="7"/><rect class="m2" x="588" y="451.5" width="12" height="7"/><rect class="m3" x="601" y="451.5" width="22" height="7"/><rect class="m4" x="624" y="451.5" width="14" height="7"/><rect class="m8" x="639" y="451.5" width="18" height="7"/><rect class="m10" x="702" y="451.5" width="15" height="7"/></g>
<g id="r49"><line class="ln" x1="552" y1="464.3" x2="659" y2="464.3"/><rect class="m5" x="577" y="460.8" width="7" height="7"/><rect class="m2" x="586" y="460.8" width="11" height="7"/><rect class="m3" x="598" y="460.8" width="23" height="7"/><rect class="m4" x="622" y="460.8" width="13" height="7"/></g>
<g id="r50"><line class="ln" x1="556" y1="473.7" x2="660" y2="473.7"/><rect class="m5" x="577" y="470.2" width="7" height="7"/><rect class="m2" x="588" y="470.2" width="11" height="7"/><rect class="m3" x="600" y="470.2" width="22" height="7"/><rect class="m4" x="623" y="470.2" width="14" height="7"/><rect class="m8" x="638" y="470.2" width="19" height="7"/></g>
<g id="r51"><line class="ln" x1="532" y1="484.3" x2="648" y2="484.3"/><use href="#S3" y="484.3"/></g>
<g id="r52"><line class="ln" x1="532" y1="494" x2="648" y2="494"/><use href="#S3" y="494"/></g>
<g id="r53"><line class="ln" x1="532" y1="502.5" x2="648" y2="502.5"/><use href="#S3" y="502.5"/></g>
<g id="r54"><line class="ln" x1="532" y1="511.3" x2="648" y2="511.3"/><use href="#S3" y="511.3"/></g>
<g id="r55"><line class="ln" x1="532" y1="521" x2="648" y2="521"/><use href="#S3" y="521"/></g>
<g id="r56"><line class="ln" x1="532" y1="530.3" x2="648" y2="530.3"/><use href="#S3" y="530.3"/></g>
<g id="r57"><line class="ln" x1="537" y1="540.3" x2="647" y2="540.3"/><rect class="m7" x="547" y="536.8" width="8" height="7"/><rect class="m5" x="581" y="536.8" width="8" height="7"/><rect class="m2" x="591" y="536.8" width="11" height="7"/><rect class="m3" x="603" y="536.8" width="25" height="7"/><rect class="m4" x="629" y="536.8" width="14" height="7"/></g>
<g id="r58"><line class="ln" x1="356" y1="552.3" x2="782" y2="552.3"/><rect class="m9" x="511" y="548.8" width="13" height="7"/><rect class="m6" x="531" y="548.8" width="11" height="7"/><rect class="m7" x="546" y="548.8" width="8" height="7"/><rect class="m1" x="555" y="548.8" width="22" height="7"/><rect class="m5" x="579" y="548.8" width="8" height="7"/><rect class="m2" x="588" y="548.8" width="12" height="7"/><rect class="m3" x="601" y="548.8" width="23" height="7"/><rect class="m8" x="628" y="548.8" width="19" height="7"/><rect class="m10" x="660" y="548.8" width="16" height="7"/></g>
<g id="r59"><line x1="409" y1="561.5" x2="912" y2="561.5" stroke="#777" stroke-width="1"/><line x1="409" y1="564" x2="912" y2="564" stroke="#777" stroke-width="1"/><rect class="m9" x="511" y="559.2" width="13" height="7"/><rect class="m6" x="531" y="559.2" width="11" height="7"/><rect class="m7" x="546" y="559.2" width="8" height="7"/><rect class="m1" x="555" y="559.2" width="22" height="7"/><rect class="m5" x="579" y="559.2" width="8" height="7"/><rect class="m2" x="588" y="559.2" width="12" height="7"/><rect class="m3" x="601" y="559.2" width="23" height="7"/><rect class="m4" x="626" y="559.2" width="13" height="7"/><rect class="m8" x="641" y="559.2" width="18" height="7"/><rect class="m10" x="764" y="559.2" width="23" height="7"/><rect class="m1" x="880" y="559.2" width="31" height="7"/></g>
<g id="r60"><line class="ln" x1="540" y1="573" x2="620" y2="573"/><rect class="m1" x="552" y="569.5" width="23" height="7"/><rect class="m5" x="576" y="569.5" width="7" height="7"/><rect class="m2" x="585" y="569.5" width="11" height="7"/></g>
<g id="r61"><line class="ln" x1="528" y1="581.7" x2="650" y2="581.7"/><use href="#S4" y="581.7"/><rect class="m5" x="641" y="578.2" width="8" height="7"/></g>
<g id="r62"><line class="ln" x1="528" y1="591.3" x2="649" y2="591.3"/><use href="#S4" y="591.3"/></g>
<g id="r63"><line class="ln" x1="528" y1="600" x2="653" y2="600"/><rect class="m6" x="528" y="596.5" width="13" height="7"/><rect class="m7" x="544" y="596.5" width="8" height="7"/><rect class="m1" x="553" y="596.5" width="23" height="7"/><rect class="m5" x="577" y="596.5" width="7" height="7"/><rect class="m3" x="592" y="596.5" width="22" height="7"/><rect class="m8" x="622" y="596.5" width="18" height="7"/></g>
<g id="r64"><line class="ln" x1="528" y1="608.3" x2="671" y2="608.3"/><use href="#S4" y="608.3"/><rect class="m8" x="637" y="604.8" width="19" height="7"/></g>
<g id="r65"><line class="ln" x1="528" y1="618.3" x2="655" y2="618.3"/><use href="#S4" y="618.3"/></g>
<g id="r66"><line class="ln" x1="528" y1="629.3" x2="663" y2="629.3"/><use href="#S5" y="629.3"/></g>
<g id="r67"><line class="ln" x1="528" y1="640.7" x2="663" y2="640.7"/><use href="#S5" y="640.7"/></g>
<g id="r68"><line class="ln" x1="527" y1="651" x2="663" y2="651"/><use href="#S5" y="651"/></g>
<g id="r69"><line class="ln" x1="528" y1="659.7" x2="671" y2="659.7"/><rect class="m7" x="542" y="656.2" width="8" height="7"/><rect class="m1" x="550" y="656.2" width="23" height="7"/><rect class="m5" x="574" y="656.2" width="8" height="7"/><rect class="m2" x="583" y="656.2" width="12" height="7"/><rect class="m3" x="596" y="656.2" width="23" height="7"/><rect class="m4" x="620" y="656.2" width="14" height="7"/><rect class="m8" x="635" y="656.2" width="18" height="7"/></g>
<g id="r70"><line class="ln" x1="526" y1="667.3" x2="660" y2="667.3"/><rect class="m6" x="526" y="663.8" width="12" height="7"/><rect class="m7" x="541" y="663.8" width="8" height="7"/><rect class="m1" x="549" y="663.8" width="24" height="7"/><rect class="m5" x="573" y="663.8" width="8" height="7"/><rect class="m2" x="583" y="663.8" width="11" height="7"/><rect class="m3" x="595" y="663.8" width="23" height="7"/><rect class="m4" x="620" y="663.8" width="14" height="7"/><rect class="m8" x="634" y="663.8" width="19" height="7"/></g>
<g id="r71"><line class="ln" x1="527" y1="676.7" x2="672" y2="676.7"/><use href="#S6" y="676.7"/></g>
<g id="r72"><line class="ln" x1="527" y1="686.7" x2="662" y2="686.7"/><use href="#S6" y="686.7"/></g>
<g id="r73"><line class="ln" x1="527" y1="697" x2="662" y2="697"/><use href="#S6" y="697"/></g>
<g id="r74"><line class="ln" x1="527" y1="707.7" x2="655" y2="707.7"/><rect class="m6" x="527" y="704.2" width="12" height="7"/><rect class="m7" x="542" y="704.2" width="8" height="7"/><rect class="m1" x="551" y="704.2" width="23" height="7"/><rect class="m5" x="575" y="704.2" width="8" height="7"/><rect class="m3" x="591" y="704.2" width="22" height="7"/><rect class="m4" x="614" y="704.2" width="14" height="7"/><rect class="m8" x="629" y="704.2" width="18" height="7"/></g>
<g id="r75"><line class="ln" x1="499" y1="716" x2="630" y2="716"/><rect class="m9" x="507" y="712.5" width="13" height="7"/><rect class="m6" x="527" y="712.5" width="12" height="7"/><rect class="m7" x="542" y="712.5" width="8" height="7"/><rect class="m1" x="551" y="712.5" width="22" height="7"/><rect class="m3" x="583" y="712.5" width="23" height="7"/><rect class="m4" x="607" y="712.5" width="13" height="7"/></g>
<g id="r76"><line class="ln" x1="527" y1="725.3" x2="659" y2="725.3"/><rect class="m6" x="527" y="721.8" width="12" height="7"/><rect class="m7" x="542" y="721.8" width="8" height="7"/><rect class="m1" x="551" y="721.8" width="23" height="7"/><rect class="m3" x="584" y="721.8" width="23" height="7"/><rect class="m4" x="608" y="721.8" width="13" height="7"/><rect class="m8" x="623" y="721.8" width="18" height="7"/></g>
<g id="r77"><line class="ln" x1="527" y1="734.3" x2="625" y2="734.3"/><rect class="m6" x="527" y="730.8" width="12" height="7"/><rect class="m7" x="543" y="730.8" width="8" height="7"/><rect class="m5" x="562" y="730.8" width="8" height="7"/><rect class="m2" x="571" y="730.8" width="11" height="7"/><rect class="m3" x="584" y="730.8" width="23" height="7"/></g>
<g id="r78"><line class="ln" x1="555" y1="745" x2="619" y2="745"/><rect class="m5" x="575" y="741.5" width="8" height="7"/><rect class="m2" x="584" y="741.5" width="12" height="7"/></g>
<g id="r79"><line class="ln" x1="527" y1="754.7" x2="620" y2="754.7"/><use href="#S7" y="754.7"/></g>
<g id="r80"><line class="ln" x1="526" y1="765.3" x2="618" y2="765.3"/><use href="#S7" y="765.3"/></g>
<g id="r81"><line class="ln" x1="443" y1="772.7" x2="620" y2="772.7"/><rect class="m9" x="457" y="769.2" width="13" height="7"/><use href="#S7" y="772.7"/></g>
<g id="r82"><line class="ln" x1="527" y1="782" x2="661" y2="782"/><use href="#S7" y="782"/><rect class="m3" x="599" y="778.5" width="23" height="7"/><rect class="m10" x="631" y="778.5" width="16" height="7"/></g>
<g id="r83"><line class="ln" x1="527" y1="790" x2="661" y2="790"/><use href="#S7" y="790"/></g>
<g id="r84"><line class="ln" x1="512" y1="797.7" x2="653" y2="797.7"/><use href="#S8" y="797.7"/></g>
<g id="r85"><line class="ln" x1="513" y1="806.7" x2="654" y2="806.7"/><use href="#S8" y="806.7"/></g>
<g id="r86"><line class="ln" x1="513" y1="815.3" x2="655" y2="815.3"/><use href="#S8" y="815.3"/></g>
<g id="r87"><line class="ln" x1="524" y1="824" x2="608" y2="824"/><use href="#S7" y="824"/></g>
<g id="r88"><line class="ln" x1="432" y1="833.3" x2="808" y2="833.3"/><use href="#S9" y="833.3"/><rect class="m10" x="682" y="829.8" width="16" height="7"/></g>
<g id="r89"><line class="ln" x1="572" y1="843" x2="746" y2="843"/><use href="#SD" y="843"/><rect class="m10" x="690" y="839.5" width="16" height="7"/></g>
<g id="r90"><line class="ln" x1="572" y1="852" x2="681" y2="852"/><use href="#SD" y="852"/></g>
<g id="r91"><line class="ln" x1="561" y1="861.7" x2="685" y2="861.7"/><use href="#SD" y="861.7"/></g>
<g id="r92"><line class="ln" x1="572" y1="872" x2="747" y2="872"/><use href="#SD" y="872"/><rect class="m10" x="690" y="868.5" width="16" height="7"/></g>
<g id="r93"><line class="ln" x1="432" y1="881.3" x2="685" y2="881.3"/><use href="#S9" y="881.3"/></g>
<g id="r94"><line class="ln" x1="432" y1="890.7" x2="686" y2="890.7"/><use href="#S9" y="890.7"/></g>
<g id="r95"><line class="ln" x1="432" y1="899.7" x2="686" y2="899.7"/><use href="#S9" y="899.7"/></g>
<g id="r96"><line class="ln" x1="432" y1="908" x2="790" y2="908"/><use href="#S9" y="908"/><rect class="m10" x="682" y="904.5" width="16" height="7"/></g>
<g id="r97"><line class="ln" x1="432" y1="918.3" x2="790" y2="918.3"/><use href="#S9" y="918.3"/><rect class="m10" x="682" y="914.8" width="16" height="7"/></g>
</g>

<g id="legend">
<rect x="705.7" y="619" width="95.3" height="152.7" fill="none" stroke="#333" stroke-width="1.2" stroke-dasharray="3 3" style="rx:0"/>
<rect class="m9" x="719.3" y="627.5" width="25.7" height="9" style="rx:1px"/><text class="lg" x="750" y="636.4">Motif 9</text>
<rect class="m6" x="719.3" y="641.2" width="25.7" height="9" style="rx:1px"/><text class="lg" x="750" y="650.1">Motif 6</text>
<rect class="m7" x="719.3" y="654.5" width="25.7" height="9" style="rx:1px"/><text class="lg" x="750" y="663.4">Motif 7</text>
<rect class="m1" x="719.3" y="667.8" width="25.7" height="9" style="rx:1px"/><text class="lg" x="750" y="676.7">Motif 1</text>
<rect class="m5" x="719.3" y="681.2" width="25.7" height="9" style="rx:1px"/><text class="lg" x="750" y="690.1">Motif 5</text>
<rect class="m2" x="719.3" y="694.5" width="25.7" height="9" style="rx:1px"/><text class="lg" x="750" y="703.4">Motif 2</text>
<rect class="m3" x="719.3" y="707.5" width="25.7" height="9" style="rx:1px"/><text class="lg" x="750" y="716.4">Motif 3</text>
<rect class="m4" x="719.3" y="721.2" width="25.7" height="9" style="rx:1px"/><text class="lg" x="750" y="730.1">Motif 4</text>
<rect class="m8" x="719.3" y="734.5" width="25.7" height="9" style="rx:1px"/><text class="lg" x="750" y="743.4">Motif 8</text>
<rect class="m10" x="719.3" y="747.8" width="25.7" height="9" style="rx:1px"/><text class="lg" x="750" y="756.7">Motif 10</text>
</g>

<g id="scale">
<text x="57" y="916.5" style="font-family:'Liberation Serif','Times New Roman',serif;font-size:11.3px;fill:#666">Tree scale:0.1</text>
<path d="M122.7 911.3H176M122.7 908.8V913.8M149 909.3V913.3M176 908.8V913.8" stroke="#666" stroke-width="1" fill="none"/>
</g>

<g id="domain">
<line x1="440" y1="933.3" x2="790" y2="933.3" stroke="#b0b0b0" stroke-width="1.5"/>
<rect x="510.7" y="930.8" width="170" height="5" fill="#00d0c8" style="rx:0"/>
<text x="447" y="950.5" style="font-family:'Liberation Sans',Arial,sans-serif;font-size:14.4px;fill:#222">putative RAN-dependent RNA polymerases</text>
</g>
</svg>
